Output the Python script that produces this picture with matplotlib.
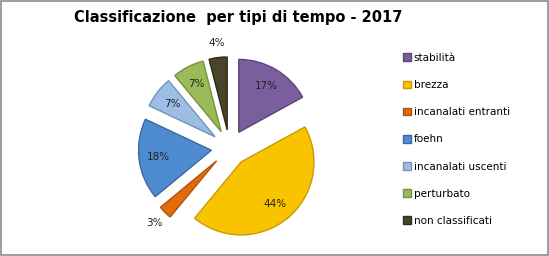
import matplotlib.pyplot as plt
from matplotlib.patches import Rectangle
import numpy as np

# data
categories = ['stabilità', 'brezza', 'incanalati entranti', 'foehn',
              'incanalati uscenti', 'perturbato', 'non classificati']
values = [17, 44, 3, 18, 7, 7, 4]
colors = ['#7B5E9E', '#F9C300', '#E36C0A', '#4F8BD0', '#9DBDE4', '#9BBB59', '#4A452A']
edges = ['#5C4578', '#C99A00', '#B0520A', '#3A6AA0', '#7393B8', '#779140', '#2E2B1A']

fig = plt.figure(figsize=(5.49, 2.56), dpi=100)

# pie axes, centred where the reference pie is
ax = fig.add_axes([0.418 - 0.182, 0.422 - 0.39, 0.364, 0.78])
wedges, _ = ax.pie(values, colors=colors, startangle=90, counterclock=False,
                   explode=[0.25] * len(values), radius=1.0,
                   wedgeprops=dict(linewidth=1.0))
for w, ec in zip(wedges, edges):
    w.set_edgecolor(ec)
ax.set_xlim(-1.37, 1.37)
ax.set_ylim(-1.37, 1.37)
ax.set_aspect('equal')

# percentage labels: inside, except the small ones
for w, v in zip(wedges, values):
    ang = np.deg2rad((w.theta1 + w.theta2) / 2)
    cx, cy = w.center
    r = 1.2 if v <= 4 else 0.74
    ax.text(cx + r * np.cos(ang), cy + r * np.sin(ang), f'{v}%',
            ha='center', va='center', fontsize=7.5, color='#222222')

fig.text(0.433, 0.932, 'Classificazione  per tipi di tempo - 2017',
         ha='center', va='center', fontsize=10.5, fontweight='bold')

fig.legend(wedges, categories, loc='upper left', bbox_to_anchor=(0.726, 0.81),
           frameon=False, fontsize=7.5, handlelength=0.75, handleheight=0.75,
           handletextpad=0.3, labelspacing=1.65, borderaxespad=0)

fig.patches.append(Rectangle((0.001, 0.002), 0.997, 0.995, transform=fig.transFigure,
                             fill=False, edgecolor='#8c8c8c', linewidth=1.2))

fig.savefig('out.png', dpi=100)
